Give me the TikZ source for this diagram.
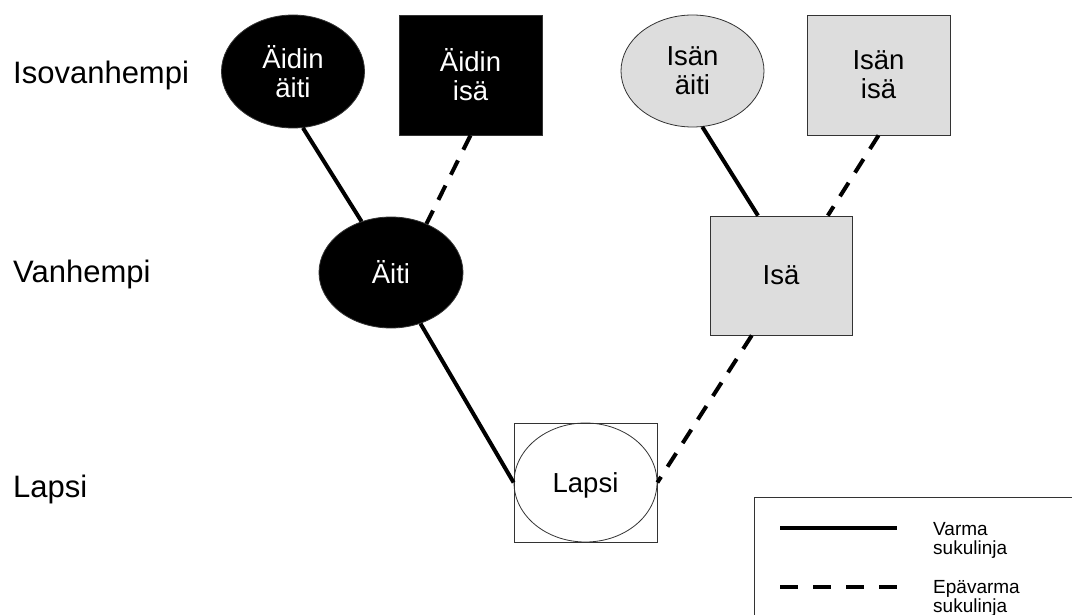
\documentclass[tikz,border=0pt]{standalone}
\usepackage{fontspec}
\setmainfont{Liberation Sans}
\usetikzlibrary{shapes.geometric}
\begin{document}
\begin{tikzpicture}[x=1pt,y=-1pt,
  person/.style={draw=black!80, line width=0.8pt, inner sep=0pt,
    font=\fontsize{27.5}{29}\selectfont, align=center},
  fem/.style={person, ellipse, minimum width=143pt, minimum height=113pt},
  mal/.style={person, rectangle, minimum width=143pt, minimum height=120pt},
  dark/.style={fill=black, text=white},
  light/.style={fill=gray!27},
  sure/.style={line width=4pt},
  unsure/.style={line width=4pt, dash pattern=on 16pt off 12pt},
  rowlabel/.style={anchor=base west, inner sep=0pt, font=\fontsize{31}{34}\selectfont},
  legtext/.style={anchor=north west, inner sep=0pt, align=left,
    font=\fontsize{19}{18.5}\selectfont}]
\useasboundingbox (0,0) rectangle (1072,615);
\clip (0,0) rectangle (1072,615);

% row labels
\node[rowlabel] (r1) at (13,84) {Isovanhempi};
\node[rowlabel] (r2) at (13,282) {Vanhempi};
\node[rowlabel] (r3) at (13,497) {Lapsi};

% grandparents
\node[fem, dark] (aa) at (293,71.5) {Äidin\\äiti};
\node[mal, dark] (ai) at (470.5,75) {Äidin\\isä};
\node[fem, light, minimum height=112pt] (ia) at (692.5,71) {Isän\\äiti};
\node[mal, light] (ii) at (878.5,75) {Isän\\isä};

% parents
\node[fem, dark, minimum width=144pt, minimum height=111pt] (am) at (391,272.5) {Äiti};
\node[mal, light, minimum width=142pt, minimum height=119pt] (is) at (781,275.5) {Isä};

% child
\node[mal, minimum height=119pt] (laR) at (585.5,482.5) {};
\node[fem, minimum height=119pt, text depth=0pt] (la) at (585.5,482.5) {Lapsi};

% connectors
\draw[sure]   (aa.-80.8) -- (am.120.6);
\draw[unsure] (ai.south) -- (am.54);
\draw[sure]   (am.-60.1) -- (la.west);
\draw[sure]   (ia.-80.4) -- (is.111.1);
\draw[unsure] (ii.south) -- (is.52.3);
\draw[unsure] (is.-116.8) -- (la.east);

% legend
\draw[draw=black!80, line width=0.8pt] (754,497) rectangle (1085,630);
\coordinate (s1) at (780,528);
\coordinate (s2) at (897,528);
\coordinate (d1) at (780,587);
\coordinate (d2) at (897,587);
\draw[line width=4.5pt] (s1) -- (s2);
\draw[line width=4.5pt, dash pattern=on 18pt off 15pt] (d1) -- (d2);
\node[legtext] (t1) at (933,522.5) {Varma\\sukulinja};
\node[legtext] (t2) at (933,580.5) {Epävarma\\sukulinja};
\end{tikzpicture}
\end{document}
